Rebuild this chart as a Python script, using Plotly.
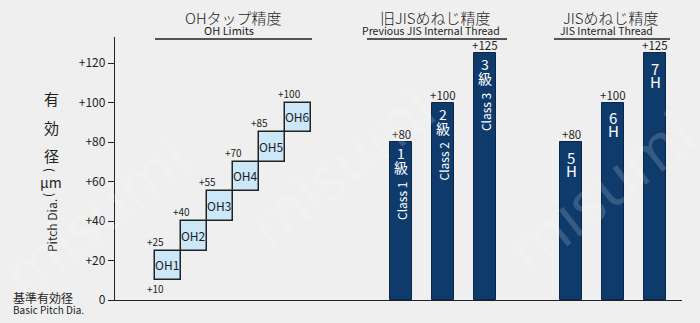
import plotly.graph_objects as go

# OH tap limits (lower / upper, µm)
oh_names = ["OH1", "OH2", "OH3", "OH4", "OH5", "OH6"]
oh_low = [10, 25, 40, 55, 70, 85]
oh_high = [25, 40, 55, 70, 85, 100]
oh_x = [53, 79, 105, 131, 157, 183]

# Previous JIS internal thread classes
old_digits = ["1", "2", "3"]
old_class = ["Class 1", "Class 2", "Class 3"]
old_vals = [80, 100, 125]
old_x = [286, 328, 370]

# JIS internal thread tolerance grades
jis_digits = ["5", "6", "7"]
jis_vals = [80, 100, 125]
jis_x = [456, 498, 540]

y_ticks = [0, 20, 40, 60, 80, 100, 120]
y_tick_text = ["0", "+20", "+40", "+60", "+80", "+100", "+120"]

NAVY = "#0f3b6c"
LIGHT = "#cbe7f8"
INK = "#1e1e1e"
JP = "Noto Sans CJK JP"

# plot area geometry (pixels)
L, R, T, B = 115, 682, 37, 300
px = 1.975  # pixels per µm on the value axis

fig = go.Figure()

# OH boxes as floating bars
fig.add_trace(go.Bar(
    x=oh_x, y=[h - l for l, h in zip(oh_low, oh_high)], base=oh_low,
    width=26, marker=dict(color=LIGHT, line=dict(color="#222", width=1.5)),
    text=oh_names, textposition="inside", insidetextanchor="middle",
    textfont=dict(family=JP, size=12, color=INK), textangle=0,
    hoverinfo="skip", showlegend=False,
))

# Navy bars for both JIS series
fig.add_trace(go.Bar(
    x=old_x + jis_x, y=old_vals + jis_vals, width=22,
    marker=dict(color=NAVY, line=dict(color="#0a2748", width=1)),
    hoverinfo="skip", showlegend=False,
))

ann = []

def add(text, x, y, size=12, color=INK, angle=0, xa="center", ya="middle", weight=None, **kw):
    f = dict(family=JP, size=size, color=color)
    if weight:
        f["weight"] = weight
    ann.append(dict(text=text, x=x, y=y, xref="x", yref="y", showarrow=False,
                    font=f, textangle=angle, xanchor=xa, yanchor=ya, **kw))

def addp(text, sx, sy, size=12, color=INK, angle=0, xa="center", ya="middle",
         family=JP, weight=None):
    # placed in paper space from screen pixels, so it may sit outside the axes
    f = dict(family=family, size=size, color=color)
    if weight:
        f["weight"] = weight
    ann.append(dict(text=text, x=(sx - L) / (R - L), y=(B - sy) / (B - T),
                    xref="paper", yref="paper", showarrow=False,
                    font=f, textangle=angle, xanchor=xa, yanchor=ya))

def yv(py):
    return (B - py) / px

# OH limit labels at the left edge of each box
add("+" + str(oh_low[0]), oh_x[0] - 13, yv(288), size=10)
for xc, hi in zip(oh_x, oh_high):
    add("+" + str(hi), xc - 13 + (4 if hi >= 100 else 0), hi, size=10, ya="bottom", yshift=0)

# value labels on bars
for xc, v in zip(old_x + jis_x, old_vals + jis_vals):
    add("+" + str(v), xc, v, size=11.5, ya="bottom", yshift=-2)

# text inside the old JIS bars
for xc, v, d, c in zip(old_x, old_vals, old_digits, old_class):
    add(d, xc, v, size=14, color="white", yshift=-11)
    add("級", xc, v, size=14, color="white", yshift=-25)
    add(c, xc, v, size=12, color="white", angle=-90, yshift=-59)

# text inside the JIS bars
for xc, v, d in zip(jis_x, jis_vals, jis_digits):
    add(d, xc, v, size=15, color="white", yshift=-15)
    add("H", xc, v, size=15, color="white", yshift=-28)

# group headings
addp("OHタップ精度", 233, 18, size=15, weight=300)
addp("OH Limits", 229, 30, size=11)
addp("旧JISめねじ精度", 435, 18, size=15, weight=300)
addp("Previous JIS Internal Thread", 431, 30, size=10.5)
addp("JISめねじ精度", 611, 18, size=15, weight=300)
addp("JIS Internal Thread", 606, 30, size=10.5)

# axis title, written vertically
for ch, py in zip(["有", "効", "径"], [98, 127, 155]):
    addp(ch, 51, py, size=15)
addp("(", 51, 170, size=12, angle=90)
addp("μm", 51, 182, size=14)
addp(")", 51, 195, size=12, angle=90)
addp("Pitch Dia.", 51, 226, size=12, angle=-90)

# basic pitch diameter label
addp("基準有効径", 11, 297, size=12, xa="left")
addp("Basic Pitch Dia.", 11, 309, size=10, xa="left")

# faint watermark
for wx, wy in [(95, 215), (340, 165), (600, 190)]:
    addp("misumi", wx, wy, size=62, color="rgba(255,255,255,0.16)", angle=-38, family="Noto Sans")

fig.update_layout(annotations=ann)

# heading underlines
for x0, x1 in [(155, 312), (367, 507), (554, 670)]:
    fig.add_shape(type="line", x0=x0 - L, x1=x1 - L, y0=yv(39), y1=yv(39),
                  xref="x", yref="y", line=dict(color="#222", width=1.3))

fig.update_layout(
    width=700, height=323,
    margin=dict(l=L, r=700 - R, t=T, b=323 - B),
    paper_bgcolor="#efefef", plot_bgcolor="#efefef",
    barmode="overlay", bargap=0,
    xaxis=dict(range=[0, R - L], showgrid=False, zeroline=False, showticklabels=False,
               ticks="", showline=True, linecolor="#222", linewidth=1.3, fixedrange=True),
    yaxis=dict(range=[0, (B - T) / px], showgrid=False, zeroline=False,
               tickvals=y_ticks, ticktext=y_tick_text, ticks="outside", ticklen=6,
               tickcolor="#222", showline=True, linecolor="#222", linewidth=1.3,
               tickfont=dict(family=JP, size=12, color=INK), fixedrange=True),
    uniformtext=dict(mode="show", minsize=10),
)

fig.write_html("out.html")
